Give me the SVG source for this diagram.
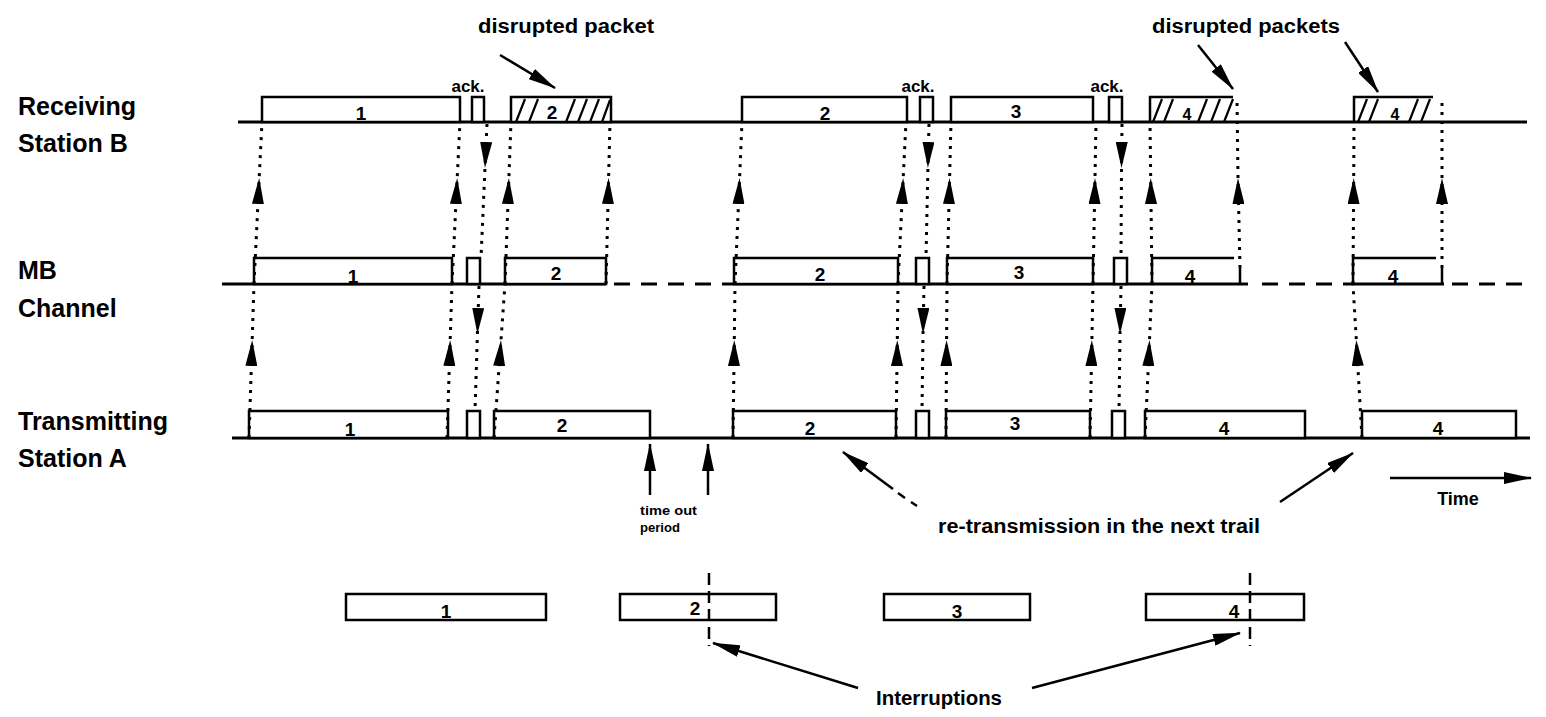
<svg xmlns="http://www.w3.org/2000/svg" width="1546" height="717" viewBox="0 0 1546 717">
<defs>
<style>
.base{stroke:#000;stroke-width:3;fill:none}
.dash{stroke:#000;stroke-width:3;fill:none;stroke-dasharray:16 11}
.box{fill:#fff;stroke:#000;stroke-width:2.5}
.open{fill:none;stroke:#000;stroke-width:2.5}
.hatch{stroke:#000;stroke-width:2.2;fill:none}
.dot{stroke:#000;stroke-width:3;fill:none;stroke-dasharray:3 6;marker-mid:url(#ah)}
.arr{stroke:#000;stroke-width:2.5;fill:none;marker-end:url(#sh)}
.intr{stroke:#000;stroke-width:2.5;fill:none;stroke-dasharray:12 6}
text{font-family:"Liberation Sans",Arial,sans-serif;fill:#000}
.side{font-size:25px;font-weight:bold}
.num{font-size:19px;font-weight:bold;text-anchor:middle}
.ann{font-size:20px;font-weight:bold;text-anchor:middle}
.small{font-size:13px;font-weight:bold}
</style>
<marker id="ah" viewBox="0 0 26 12" refX="26" refY="6" markerWidth="26" markerHeight="12" markerUnits="userSpaceOnUse" orient="auto"><path d="M0,0 L26,6 L0,12 z" fill="#000"/></marker>
<marker id="sh" viewBox="0 0 28 12" refX="27" refY="6" markerWidth="28" markerHeight="12" markerUnits="userSpaceOnUse" orient="auto"><path d="M0,0 L28,6 L0,12 z" fill="#000"/></marker>
</defs>
<rect width="1546" height="717" fill="#fff"/>

<g id="labels">
<text class="side" x="18" y="115">Receiving</text>
<text class="side" x="18" y="152">Station B</text>
<text class="side" x="18" y="279">MB</text>
<text class="side" x="18" y="317">Channel</text>
<text class="side" x="18" y="430">Transmitting</text>
<text class="side" x="18" y="467">Station A</text>
</g>

<g id="axes">
<line class="base" x1="238" y1="122" x2="1527" y2="122"/>
<line class="base" x1="222" y1="284" x2="606" y2="284"/>
<line class="dash" x1="614" y1="284" x2="733" y2="284"/>
<line class="base" x1="733" y1="284" x2="1248" y2="284"/>
<line class="dash" x1="1262" y1="284" x2="1353" y2="284"/>
<line class="base" x1="1353" y1="284" x2="1444" y2="284"/>
<line class="dash" x1="1452" y1="284" x2="1530" y2="284"/>
<line class="base" x1="232" y1="438" x2="1530" y2="438"/>
</g>

<g id="row-b">
<g id="b-p1"><rect class="box" x="262" y="97" width="198" height="25"/><text class="num" x="361" y="120">1</text></g>
<g id="b-ack1"><rect class="box" x="472" y="97" width="12" height="25"/></g>
<g id="b-p2-disrupted"><rect class="box" x="511" y="97" width="100" height="25"/>
<path class="hatch" d="M516,122 L525,99 M529,122 L538,99 M566,122 L575,99 M578,122 L587,99 M590,122 L599,99 M602,122 L610,100"/>
<text class="num" x="552" y="119">2</text></g>
<g id="b-p2"><rect class="box" x="742" y="97" width="165" height="25"/><text class="num" x="825" y="120">2</text></g>
<g id="b-ack2"><rect class="box" x="920" y="97" width="13" height="25"/></g>
<g id="b-p3"><rect class="box" x="951" y="97" width="142" height="25"/><text class="num" x="1016" y="118">3</text></g>
<g id="b-ack3"><rect class="box" x="1109" y="97" width="13" height="25"/></g>
<g id="b-p4-disrupted-1"><path class="open" d="M1150,122 V97 H1233"/>
<path class="hatch" d="M1153,122 L1162,99 M1164,122 L1173,99 M1198,122 L1207,99 M1211,122 L1220,99 M1224,122 L1233,99"/>
<text class="num" x="1187" y="120" style="font-size:16px">4</text></g>
<g id="b-p4-disrupted-2"><path class="open" d="M1354,122 V97 H1433"/>
<path class="hatch" d="M1358,122 L1367,99 M1369,122 L1378,99 M1409,122 L1418,99 M1421,122 L1430,99"/>
<text class="num" x="1395" y="120" style="font-size:16px">4</text></g>
</g>

<g id="row-mb">
<g id="mb-p1"><rect class="box" x="254" y="258" width="198" height="26"/><text class="num" x="353" y="283">1</text></g>
<g id="mb-ack1"><rect class="box" x="467" y="258" width="13" height="26"/></g>
<g id="mb-p2"><rect class="box" x="505" y="258" width="101" height="26"/><text class="num" x="556" y="280">2</text></g>
<g id="mb-p2b"><rect class="box" x="734" y="258" width="164" height="26"/><text class="num" x="820" y="281">2</text></g>
<g id="mb-ack2"><rect class="box" x="916" y="258" width="13" height="26"/></g>
<g id="mb-p3"><rect class="box" x="947" y="258" width="146" height="26"/><text class="num" x="1019" y="279">3</text></g>
<g id="mb-ack3"><rect class="box" x="1114" y="258" width="13" height="26"/></g>
<g id="mb-p4a"><path class="open" d="M1152,284 V258 H1234 M1240,268 V284"/><text class="num" x="1190" y="283">4</text></g>
<g id="mb-p4b"><path class="open" d="M1353,284 V258 H1436 M1442,268 V284"/><text class="num" x="1393" y="283">4</text></g>
</g>

<g id="row-a">
<g id="a-p1"><rect class="box" x="249" y="411" width="199" height="27"/><text class="num" x="350" y="436">1</text></g>
<g id="a-ack1"><rect class="box" x="467" y="411" width="13" height="27"/></g>
<g id="a-p2"><rect class="box" x="494" y="411" width="156" height="27"/><text class="num" x="562" y="432">2</text></g>
<g id="a-p2b"><rect class="box" x="733" y="411" width="163" height="27"/><text class="num" x="810" y="435">2</text></g>
<g id="a-ack2"><rect class="box" x="916" y="411" width="13" height="27"/></g>
<g id="a-p3"><rect class="box" x="946" y="411" width="144" height="27"/><text class="num" x="1015" y="430">3</text></g>
<g id="a-ack3"><rect class="box" x="1112" y="411" width="13" height="27"/></g>
<g id="a-p4"><rect class="box" x="1145" y="411" width="160" height="27"/><text class="num" x="1224" y="435">4</text></g>
<g id="a-p4b"><rect class="box" x="1362" y="411" width="154" height="27"/><text class="num" x="1438" y="435">4</text></g>
</g>

<g id="row-summary">
<g id="s-p1"><rect class="box" x="346" y="594" width="200" height="26"/><text class="num" x="446" y="618">1</text></g>
<g id="s-p2"><rect class="box" x="620" y="594" width="156" height="26"/><text class="num" x="695" y="615">2</text></g>
<g id="s-p3"><rect class="box" x="884" y="594" width="146" height="26"/><text class="num" x="957" y="618">3</text></g>
<g id="s-p4"><rect class="box" x="1146" y="594" width="158" height="26"/><text class="num" x="1234" y="618">4</text></g>
<line class="intr" x1="709" y1="573" x2="709" y2="646"/>
<line class="intr" x1="1250" y1="573" x2="1250" y2="646"/>
</g>

<g id="connectors">
<polyline class="dot" points="249,438 252.2,340 254,284"/>
<polyline class="dot" points="447,438 450.2,340 452,284"/>
<polyline class="dot" points="494,438 501,340 505,284"/>
<polyline class="dot" points="733,438 734.3,340 735,284"/>
<polyline class="dot" points="896,438 897.3,340 898,284"/>
<polyline class="dot" points="946,438 946.6,340 947,284"/>
<polyline class="dot" points="1090,438 1091.9,340 1093,284"/>
<polyline class="dot" points="1145,438 1149.5,340 1152,284"/>
<polyline class="dot" points="1362,438 1356.3,340 1353,284"/>

<polyline class="dot" points="254,284 259.2,178 262,122"/>
<polyline class="dot" points="452,284 457.2,178 460,122"/>
<polyline class="dot" points="505,284 508.9,178 511,122"/>
<polyline class="dot" points="606,284 608.6,178 610,122"/>
<polyline class="dot" points="735,284 739.6,178 742,122"/>
<polyline class="dot" points="898,284 903.2,178 906,122"/>
<polyline class="dot" points="947,284 949.6,178 951,122"/>
<polyline class="dot" points="1093,284 1095,178 1096,122"/>
<polyline class="dot" points="1152,284 1150.7,178 1150,122"/>
<polyline class="dot" points="1240,268 1238,178 1237,100"/>
<polyline class="dot" points="1353,284 1353.7,178 1354,122"/>
<polyline class="dot" points="1442,268 1442,178 1442,100"/>

<polyline class="dot" points="487,124 485,168 481,258"/>
<polyline class="dot" points="929,124 927.9,168 926,258"/>
<polyline class="dot" points="1122,124 1121.5,168 1121,258"/>
<polyline class="dot" points="479,286 477.4,334 475,411"/>
<polyline class="dot" points="924,286 923,334 922,411"/>
<polyline class="dot" points="1121,286 1120,334 1119,411"/>
</g>

<g id="annotations">
<text class="ann" x="566" y="33" textLength="176" lengthAdjust="spacingAndGlyphs">disrupted packet</text>
<line class="arr" x1="500" y1="55" x2="555" y2="88"/>
<text class="ann" x="1246" y="33" textLength="188" lengthAdjust="spacingAndGlyphs">disrupted packets</text>
<line class="arr" x1="1198" y1="45" x2="1233" y2="89"/>
<line class="arr" x1="1345" y1="42" x2="1378" y2="92"/>
<text class="ann" x="468" y="92" style="font-size:17px">ack.</text>
<text class="ann" x="918" y="92" style="font-size:17px">ack.</text>
<text class="ann" x="1107" y="92" style="font-size:17px">ack.</text>

<line class="arr" x1="650" y1="495" x2="650" y2="444"/>
<line class="arr" x1="708" y1="495" x2="708" y2="444"/>
<text class="small" x="640" y="515" textLength="57" lengthAdjust="spacingAndGlyphs">time out</text>
<text class="small" x="640" y="532" textLength="40" lengthAdjust="spacingAndGlyphs">period</text>

<line class="arr" x1="893" y1="489" x2="843" y2="452"/>
<path class="base" d="M898,493 L905,498 M911,502 L917,506" style="stroke-width:2.5"/>
<line class="arr" x1="1280" y1="502" x2="1353" y2="453"/>
<text class="ann" x="1099" y="533" textLength="322" lengthAdjust="spacingAndGlyphs">re-transmission in the next trail</text>

<line class="arr" x1="1390" y1="478" x2="1531" y2="478"/>
<text class="ann" x="1458" y="505" style="font-size:18px">Time</text>

<text class="ann" x="939" y="705" textLength="126" lengthAdjust="spacingAndGlyphs">Interruptions</text>
<line class="arr" x1="858" y1="688" x2="713" y2="643"/>
<line class="arr" x1="1032" y1="688" x2="1240" y2="633"/>
</g>
</svg>
